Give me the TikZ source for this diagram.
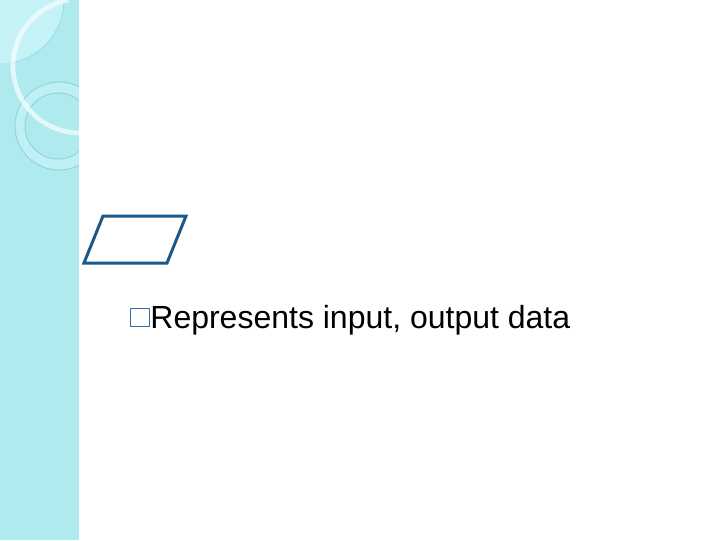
\documentclass[tikz,border=0pt]{standalone}
\usepackage{fontspec}
\setmainfont{Liberation Sans}
\usepackage{tikz}
\usetikzlibrary{patterns}
\usepackage{xcolor}

\begin{document}
\begin{tikzpicture}[x=0.75pt,y=0.75pt,yscale=-1,xscale=1]
%set diagram left start at 0, and has size 720 x 540
\useasboundingbox (0,0) rectangle (720,540);

%Shape: Rectangle [id:band] 
\fill [color={rgb, 255:red, 172; green, 234; blue, 238 }] (0,0) rectangle (79,540) ;
\fill [pattern=crosshatch dots, pattern color=white, opacity=0.35] (0,0) rectangle (79,540) ;
\begin{scope}
\clip (0,0) rectangle (79,540) ;
%Shape: Quarter Disc [id:corner] 
\fill [color={rgb, 255:red, 202; green, 245; blue, 248 }, fill opacity=0.8] (0,0) -- (64,0) arc (0:78:64) -- (0,63) -- cycle ;
\draw [color={rgb, 255:red, 150; green, 215; blue, 222 }, line width=0.5] (64,0) arc (0:78:64) ;
%Shape: Ring [id:ring] 
\fill [color={rgb, 255:red, 194; green, 241; blue, 246 }, fill opacity=0.85, even odd rule] (59,126) circle [radius=44] (58,126) circle [radius=33] ;
\draw [color={rgb, 255:red, 140; green, 208; blue, 218 }, line width=0.6] (59,126) circle [radius=44] ;
\draw [color={rgb, 255:red, 140; green, 208; blue, 218 }, line width=0.6] (58,126) circle [radius=33] ;
%Curve Lines [id:arc] 
\draw [color=white, draw opacity=0.65, line width=3.5] (80,66) ++(260:67) arc (260:90:67) ;
\end{scope}

%Shape: Parallelogram [id:io] 
\draw [color={rgb, 255:red, 28; green, 88; blue, 138 }, line width=2.25] (103,216) -- (186,216) -- (167,263) -- (84,263) -- cycle ;

% Text Node
\draw (130,308) node [anchor=north west, inner sep=0pt, minimum width=14pt, minimum height=13.5pt, draw={rgb, 255:red, 50; green, 110; blue, 170 }, line width=1.1] (bullet) {};
% Text Node
\draw (bullet.south east) ++(0,1) node [anchor=base west, inner sep=0pt, font=\fontsize{24}{29}\selectfont] (label) {Represents input, output data};

\end{tikzpicture}
\end{document}
